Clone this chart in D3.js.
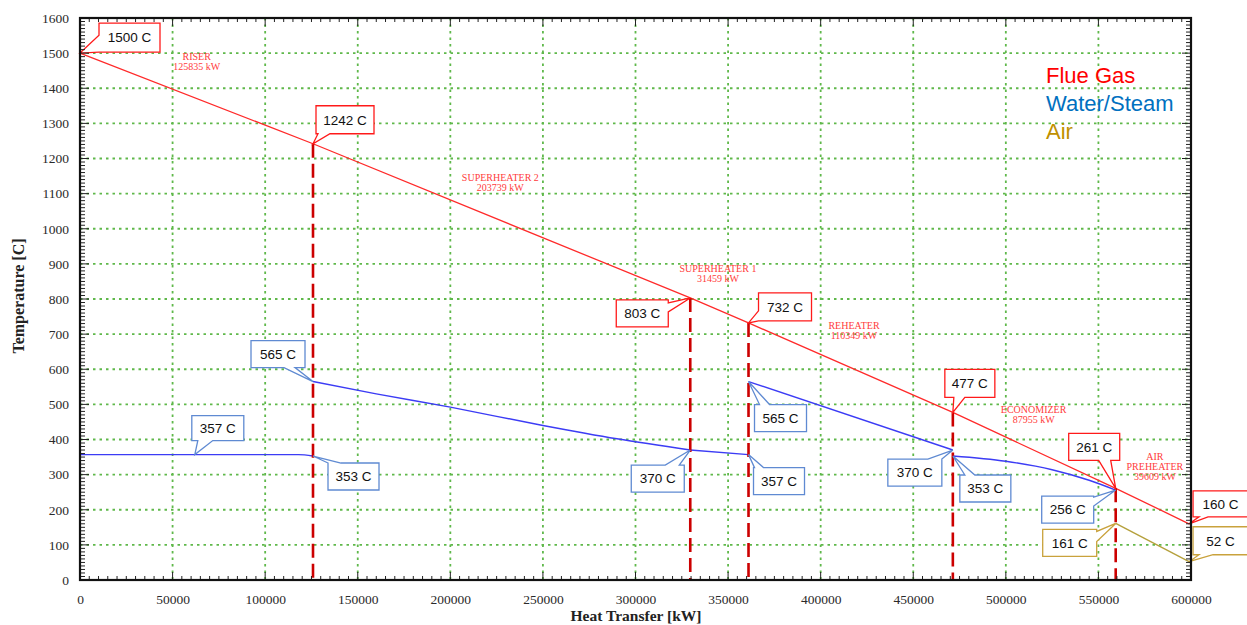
<!DOCTYPE html>
<html><head><meta charset="utf-8">
<script src="https://cdn.jsdelivr.net/npm/d3@7"></script>
<style>body{margin:0;background:#fff}svg{display:block}</style>
</head><body>
<svg id="chart" width="1247" height="625"></svg>
<script>
// Boiler heat-transfer (T–Q) diagram

// Section duties, kW
const sectionNames = ["RISER", "SUPERHEATER 2", "SUPERHEATER 1", "REHEATER", "ECONOMIZER", "AIR\nPREHEATER"];
const sectionDuty = [125835, 203739, 31459, 110349, 87955, 39609];
// Label anchors in data units [kW, °C]
const sectionLabelAt = [[63000, 1490], [227000, 1145], [344500, 885], [418000, 723], [515000, 484], [580500, 350]];

// Cumulative heat transferred at each section boundary, kW
const heatBreaks = [0, 125835, 329574, 361033, 471382, 559337, 598946];
// Flue gas temperature at each boundary, °C
const flueGasTemp = [1500, 1242, 803, 732, 477, 261, 160];

// Water / steam side, one run per section [kW, °C]
const waterEvap = [[0, 357], [118000, 357], [125835, 353]];
const waterSH2 = [[125835, 565], [160000, 530], [200000, 492], [250000, 440], [290000, 402], [329574, 370]];
const waterSH1 = [[329574, 370], [361033, 357]];
const waterRH  = [[361033, 565], [471382, 370]];
const waterEco = [[471382, 353], [500000, 338], [525000, 314], [545000, 284], [559337, 256]];
// Air through the preheater
const airTemp = [[559337, 161], [598946, 52]];

const xTicks = d3.range(0, 600001, 50000);
const yTicks = d3.range(0, 1601, 100);

// Value callouts: point [kW, °C], stated value, series
const callouts = [
  {x: 0,      t: 1500, s: "gas"},
  {x: 125835, t: 1242, s: "gas"},
  {x: 329574, t: 803,  s: "gas"},
  {x: 361033, t: 732,  s: "gas"},
  {x: 471382, t: 477,  s: "gas"},
  {x: 559337, t: 261,  s: "gas"},
  {x: 598946, t: 160,  s: "gas"},
  {x: 598946, t: 52,   s: "air"},
  {x: 559337, t: 161,  s: "air"},
  {x: 559337, t: 256,  s: "water"},
  {x: 125835, t: 565,  s: "water"},
  {x: 62000,  t: 357,  s: "water"},
  {x: 125835, t: 353,  s: "water"},
  {x: 329574, t: 370,  s: "water"},
  {x: 361033, t: 357,  s: "water"},
  {x: 361033, t: 565,  s: "water"},
  {x: 471382, t: 370,  s: "water"},
  {x: 471382, t: 353,  s: "water"}
];
// Box placement for each callout: offset of box from the point, size, pointer side and span
const calloutBoxes = [
  {dx: 19,  dy: -30, w: 61, h: 29, side: "left",   a: 12, b: 29},
  {dx: 3,   dy: -38, w: 58, h: 28, side: "bottom", a: 2,  b: 14},
  {dx: -74, dy: 2,   w: 52, h: 27, side: "right",  a: 3,  b: 12},
  {dx: 10,  dy: -30, w: 53, h: 28, side: "left",   a: 18, b: 28},
  {dx: -8,  dy: -43, w: 50, h: 28, side: "bottom", a: 9,  b: 20},
  {dx: -47, dy: -55, w: 51, h: 27, side: "bottom", a: 30, b: 42},
  {dx: 4,   dy: -33, w: 55, h: 26, side: "bottom", a: 6,  b: 15},
  {dx: 4,   dy: -35, w: 55, h: 28, side: "bottom", a: 6,  b: 20},
  {dx: -73, dy: 6,   w: 54, h: 27, side: "right",  a: 2,  b: 12},
  {dx: -74, dy: 6,   w: 52, h: 27, side: "right",  a: 1,  b: 10},
  {dx: -62, dy: -41, w: 54, h: 27, side: "bottom", a: 33, b: 44},
  {dx: -3,  dy: -39, w: 52, h: 25, side: "bottom", a: 6,  b: 21},
  {dx: 15,  dy: 7,   w: 51, h: 27, side: "top",    a: 0,  b: 13},
  {dx: -59, dy: 15,  w: 53, h: 27, side: "top",    a: 34, b: 48},
  {dx: 5,   dy: 13,  w: 51, h: 27, side: "top",    a: 1,  b: 10},
  {dx: 6,   dy: 23,  w: 52, h: 27, side: "top",    a: 5,  b: 15},
  {dx: -65, dy: 9,   w: 54, h: 27, side: "top",    a: 40, b: 54},
  {dx: 7,   dy: 19,  w: 51, h: 27, side: "top",    a: 5,  b: 15}
];

const legendItems = ["Flue Gas", "Water/Steam", "Air"];

const colors = {gas: "#ff2a2a", water: "#3c3cf5", air: "#b5a03c"};
const boxStroke = {gas: "#ff1a1a", water: "#5f8ad2", air: "#c9a23c"};
const legendColors = ["#ff0000", "#0070c0", "#bf9000"];

const svg = d3.select("#chart");
const L = 80, R = 1191, T = 18, B = 580;
const x = d3.scaleLinear().domain([0, 600000]).range([L, R]);
const y = d3.scaleLinear().domain([0, 1600]).range([B, T]);

// Grid
const grid = svg.append("g").attr("stroke", "#5fb84a").attr("stroke-width", 1.8)
  .attr("stroke-dasharray", "2.5,4");
grid.selectAll("line.gx").data(xTicks.slice(1, -1)).join("line")
  .attr("x1", d => x(d)).attr("x2", d => x(d)).attr("y1", T).attr("y2", B);
grid.selectAll("line.gy").data(yTicks.slice(1, -1)).join("line")
  .attr("y1", d => y(d)).attr("y2", d => y(d)).attr("x1", L).attr("x2", R);

const line = d3.line().x(d => x(d[0])).y(d => y(d[1]));
const mono = d3.line().x(d => x(d[0])).y(d => y(d[1])).curve(d3.curveMonotoneX);

// Water / steam runs
[waterEvap, waterSH2, waterSH1, waterRH, waterEco].forEach(run => {
  svg.append("path").attr("d", mono(run)).attr("fill", "none")
    .attr("stroke", colors.water).attr("stroke-width", 1.4);
});
// Air
svg.append("path").attr("d", line(airTemp)).attr("fill", "none")
  .attr("stroke", colors.air).attr("stroke-width", 1.4);
// Flue gas
svg.append("path").attr("d", line(heatBreaks.map((q, i) => [q, flueGasTemp[i]])))
  .attr("fill", "none").attr("stroke", colors.gas).attr("stroke-width", 1.3);

// Section boundaries
svg.selectAll("line.bound").data(heatBreaks.slice(1, -1)).join("line")
  .attr("x1", d => x(d)).attr("x2", d => x(d))
  .attr("y1", (d, i) => y(flueGasTemp[i + 1])).attr("y2", B)
  .attr("stroke", "#cc0000").attr("stroke-width", 2.6).attr("stroke-dasharray", "14,6");

// Section labels
sectionNames.forEach((name, i) => {
  const lines = name.split("\n").concat([sectionDuty[i] + " kW"]);
  const t = svg.append("text").attr("text-anchor", "middle")
    .attr("font-family", "Liberation Serif, Times New Roman, serif").attr("font-size", 10)
    .attr("fill", "#ff3b3b");
  lines.forEach((ln, k) => {
    t.append("tspan").attr("x", x(sectionLabelAt[i][0]))
      .attr("y", y(sectionLabelAt[i][1]) + 3 + k * 10).text(ln);
  });
});

// Callouts
function calloutPath(x0, y0, w, h, side, a, b, tx, ty) {
  const x1 = x0 + w, y1 = y0 + h;
  let p;
  if (side === "top") p = [[x0, y0], [x0 + a, y0], [tx, ty], [x0 + b, y0], [x1, y0], [x1, y1], [x0, y1]];
  else if (side === "right") p = [[x0, y0], [x1, y0], [x1, y0 + a], [tx, ty], [x1, y0 + b], [x1, y1], [x0, y1]];
  else if (side === "bottom") p = [[x0, y0], [x1, y0], [x1, y1], [x0 + b, y1], [tx, ty], [x0 + a, y1], [x0, y1]];
  else p = [[x0, y0], [x1, y0], [x1, y1], [x0, y1], [x0, y0 + b], [tx, ty], [x0, y0 + a]];
  return "M" + p.map(q => q.join(",")).join("L") + "Z";
}
callouts.forEach((c, i) => {
  const bx = calloutBoxes[i];
  const tx = x(c.x), ty = y(c.t);
  const x0 = tx + bx.dx, y0 = ty + bx.dy;
  svg.append("path").attr("d", calloutPath(x0, y0, bx.w, bx.h, bx.side, bx.a, bx.b, tx, ty))
    .attr("fill", "#fff").attr("stroke", boxStroke[c.s]).attr("stroke-width", 1.3)
    .attr("stroke-linejoin", "miter");
  svg.append("text").attr("x", x0 + bx.w / 2).attr("y", y0 + bx.h / 2 + 4.8)
    .attr("text-anchor", "middle").attr("font-family", "Liberation Sans, Arial, sans-serif")
    .attr("font-size", 13.5).attr("fill", "#111").text(c.t + " C");
});

// Frame ticks: majors and minors on every side, pointing inward
const tickG = svg.append("g").attr("stroke", "#222").attr("stroke-width", 1);
const xMinor = d3.range(0, 600001, 5000);
const yMinor = d3.range(0, 1601, 10);
xMinor.forEach(v => {
  const len = v % 50000 === 0 ? 8 : 4;
  tickG.append("line").attr("x1", x(v)).attr("x2", x(v)).attr("y1", B).attr("y2", B - len);
  tickG.append("line").attr("x1", x(v)).attr("x2", x(v)).attr("y1", T).attr("y2", T + len);
});
yMinor.forEach(v => {
  const len = v % 100 === 0 ? 9 : 5;
  tickG.append("line").attr("y1", y(v)).attr("y2", y(v)).attr("x1", L).attr("x2", L + len);
  tickG.append("line").attr("y1", y(v)).attr("y2", y(v)).attr("x1", R).attr("x2", R - len);
});

// Axes labels via d3 axes (ticks hidden, labels only)
const xAxis = svg.append("g").attr("transform", `translate(0,${B})`)
  .call(d3.axisBottom(x).tickValues(xTicks).tickSize(0).tickPadding(14).tickFormat(d3.format("d")));
const yAxis = svg.append("g").attr("transform", `translate(${L},0)`)
  .call(d3.axisLeft(y).tickValues(yTicks).tickSize(0).tickPadding(11).tickFormat(d3.format("d")));
[xAxis, yAxis].forEach(g => {
  g.select(".domain").remove();
  g.selectAll("text").attr("font-family", "Liberation Serif, Times New Roman, serif")
    .attr("font-size", 13.5).attr("fill", "#2a2a2a");
});

// Frame
svg.append("rect").attr("x", L).attr("y", T).attr("width", R - L).attr("height", B - T)
  .attr("fill", "none").attr("stroke", "#111").attr("stroke-width", 2.2);

// Axis titles
svg.append("text").attr("x", 636).attr("y", 621).attr("text-anchor", "middle")
  .attr("font-family", "Liberation Serif, Times New Roman, serif").attr("font-weight", "bold")
  .attr("font-size", 15.5).attr("fill", "#222").text("Heat Transfer [kW]");
svg.append("text").attr("transform", "translate(24,296) rotate(-90)").attr("text-anchor", "middle")
  .attr("font-family", "Liberation Serif, Times New Roman, serif").attr("font-weight", "bold")
  .attr("font-size", 16).attr("fill", "#222").text("Temperature [C]");

// Legend
legendItems.forEach((t, i) => {
  svg.append("text").attr("x", 1046).attr("y", 83 + i * 28)
    .attr("font-family", "Liberation Sans, Arial, sans-serif").attr("font-size", 22)
    .attr("fill", legendColors[i]).text(t);
});
</script>
</body></html>
